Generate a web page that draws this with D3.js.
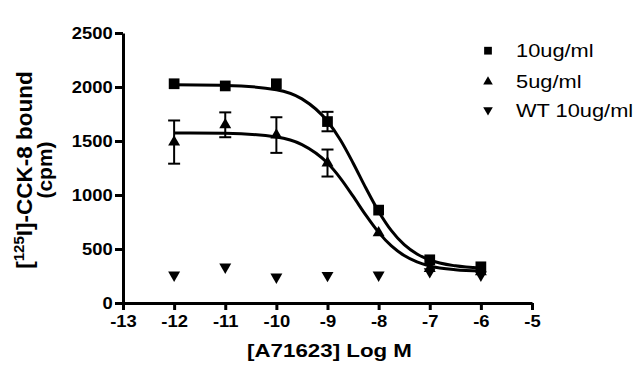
<!DOCTYPE html>
<html>
<head>
<meta charset="utf-8">
<script src="https://cdn.jsdelivr.net/npm/d3@7"></script>
<style>
  body { margin: 0; background: #fff; }
  svg { display: block; font-family: "Liberation Sans", Arial, sans-serif; }
</style>
</head>
<body>
<div id="chart"></div>
<script>
// concentrations (log M) where points were measured
const logConc = [-12, -11, -10, -9, -8, -7, -6];

const mean10 = [2030, 2010, 2030, 1680, 860, 400, 335];
const err10  = [0, 0, 0, 90, 0, 0, 0];
const mean5  = [1490, 1650, 1555, 1296, 650, 320, 290];
const err5   = [200, 115, 165, 125, 0, 0, 0];
const meanWT = [259, 333, 241, 255, 259, 290, 259];

const fitX  = [-12, -11, -10, -9.5, -9, -8.75, -8.5, -8.25, -8, -7.75, -7.5, -7.25, -7, -6.5, -6];
const fit10 = [2020, 2015, 1975, 1890, 1683, 1511, 1297, 1065, 848, 670, 540, 454, 398, 344, 325];
const fit5  = [1575, 1571, 1537, 1467, 1296, 1157, 989, 813, 654, 528, 439, 380, 343, 308, 296];

// axis ticks and labels
const xTicks = [-13, -12, -11, -10, -9, -8, -7, -6, -5];
const yTicks = [0, 500, 1000, 1500, 2000, 2500];
const legendLabels = ["10ug/ml", "5ug/ml", "WT 10ug/ml"];

const width = 640, height = 377;
const margin = {top: 33, right: 108, bottom: 74, left: 123};

const svg = d3.select("#chart").append("svg")
    .attr("width", width)
    .attr("height", height);

const x = d3.scaleLinear().domain([-13, -5]).range([margin.left, width - margin.right]);
const y = d3.scaleLinear().domain([0, 2500]).range([height - margin.bottom, margin.top]);

// plain labels, hyphen minus and no thousands comma
const plain = d => String(d);

// axes - text is a little wide in the original so stretch horizontally
const yAxis = svg.append("g")
    .attr("transform", `translate(${margin.left},0)`)
    .call(d3.axisLeft(y).tickValues(yTicks).tickFormat(plain).tickSize(8).tickSizeOuter(0).tickPadding(1));

const xAxis = svg.append("g")
    .attr("transform", `translate(0,${height - margin.bottom})`)
    .call(d3.axisBottom(x).tickValues(xTicks).tickFormat(plain).tickSize(7).tickSizeOuter(0).tickPadding(6));

[xAxis, yAxis].forEach(g => {
    g.select(".domain").attr("stroke", "#000").attr("stroke-width", 3);
    g.selectAll(".tick line").attr("stroke", "#000").attr("stroke-width", 3);
    g.selectAll(".tick text")
        .attr("fill", "#000")
        .attr("font-size", 16)
        .attr("font-weight", "bold")
        .attr("font-family", "Liberation Sans, Arial, sans-serif")
        .attr("transform", "scale(1.15,1)");
});

// x-axis title
svg.append("text")
    .attr("transform", `translate(${(margin.left + width - margin.right) / 2 + 2},357) scale(1.24,1)`)
    .attr("text-anchor", "middle")
    .attr("font-size", 18)
    .attr("font-weight", "bold")
    .text("[A71623] Log M");

// y-axis title, two lines rotated
const yTitle = svg.append("g")
    .attr("transform", "translate(0,170) rotate(-90)")
    .attr("font-weight", "bold")
    .attr("text-anchor", "middle");

const t1 = yTitle.append("text").attr("x", 0).attr("y", 32).attr("font-size", 22.5);
t1.append("tspan").text("[");
t1.append("tspan").attr("font-size", 15).attr("dy", -8).text("125");
t1.append("tspan").attr("dy", 8).text("I]-CCK-8 bound");

yTitle.append("text").attr("x", 0).attr("y", 51.5).attr("font-size", 21).text("(cpm)");

// fitted lines
const line = d3.line()
    .x((d, i) => x(fitX[i]))
    .y(d => y(d))
    .curve(d3.curveMonotoneX);

[fit10, fit5].forEach(f => {
    svg.append("path")
        .datum(f)
        .attr("d", line)
        .attr("fill", "none")
        .attr("stroke", "#000")
        .attr("stroke-width", 3);
});

// error bars
function errorBars(means, errs) {
    const rows = means.map((m, i) => ({x: logConc[i], m: m, e: errs[i]})).filter(d => d.e > 0);
    const g = svg.append("g").attr("stroke", "#000").attr("stroke-width", 2);
    g.selectAll("line.v").data(rows).join("line")
        .attr("x1", d => x(d.x)).attr("x2", d => x(d.x))
        .attr("y1", d => y(d.m - d.e)).attr("y2", d => y(d.m + d.e));
    [-1, 1].forEach(s => {
        g.selectAll("line.c" + (s + 1)).data(rows).join("line")
            .attr("x1", d => x(d.x) - 6).attr("x2", d => x(d.x) + 6)
            .attr("y1", d => y(d.m + s * d.e)).attr("y2", d => y(d.m + s * d.e));
    });
}
errorBars(mean10, err10);
errorBars(mean5, err5);

// markers
const square = d3.symbol().type(d3.symbolSquare).size(115);
const tri = d3.symbol().type(d3.symbolTriangle).size(62);

function points(means, path, rot) {
    svg.append("g").selectAll("path").data(means).join("path")
        .attr("d", path)
        .attr("transform", (d, i) => `translate(${x(logConc[i])},${y(d)}) rotate(${rot})`)
        .attr("fill", "#000");
}
points(mean10, square(), 0);
points(mean5, tri(), 0);
points(meanWT, tri(), 180);

// legend
const legendY = [50.7, 81.7, 110];
const legendSym = [d3.symbol().type(d3.symbolSquare).size(60)(), d3.symbol().type(d3.symbolTriangle).size(40)(), d3.symbol().type(d3.symbolTriangle).size(40)()];
const legendRot = [0, 0, 180];

const legend = svg.append("g");
legendLabels.forEach((lab, i) => {
    legend.append("path")
        .attr("d", legendSym[i])
        .attr("transform", `translate(488,${legendY[i]}) rotate(${legendRot[i]})`)
        .attr("fill", "#000");
    legend.append("text")
        .attr("transform", `translate(516,${legendY[i] + 6.6}) scale(1.18,1)`)
        .attr("font-size", 18.5)
        .attr("fill", "#000")
        .text(lab);
});
</script>
</body>
</html>
